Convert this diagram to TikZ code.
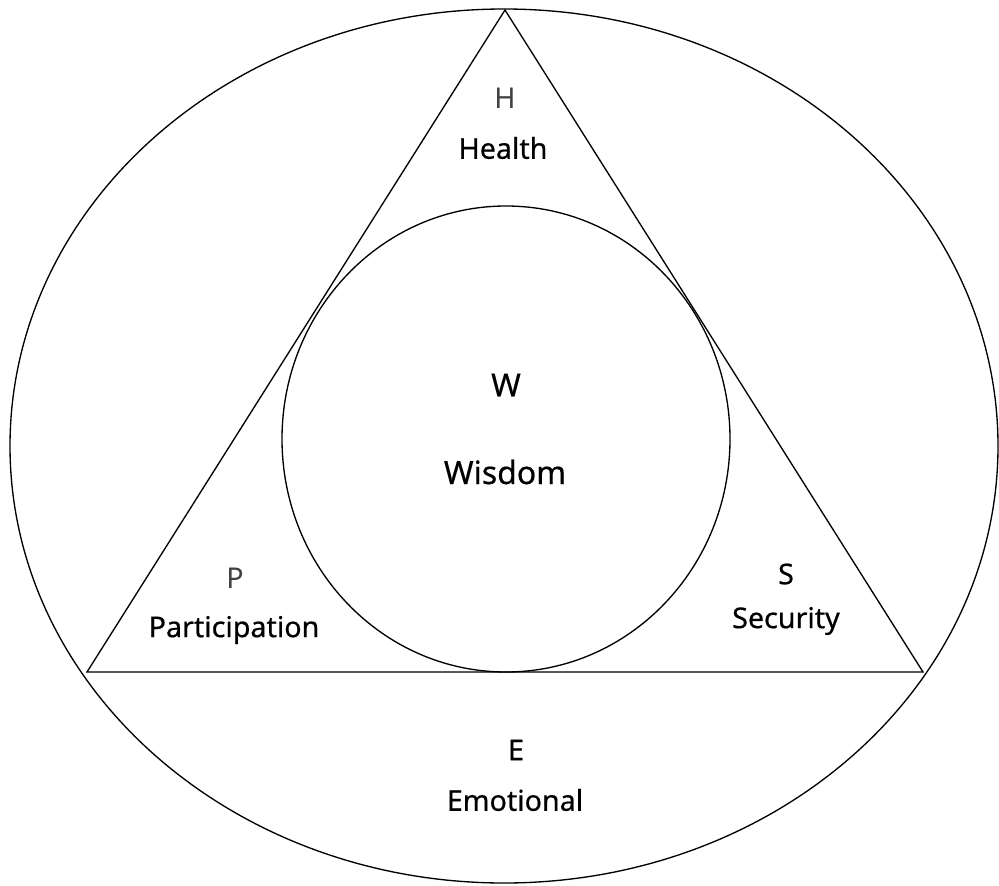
\documentclass[tikz,border=0pt]{standalone}
\usepackage{fontspec}
\setmainfont{Noto Sans}
\newfontfamily\labelfont[FakeBold=0.5]{Noto Sans}
\begin{document}
\begin{tikzpicture}[x=0.75pt,y=-0.75pt,
  shape line/.style={draw=black,line width=1pt},
  label/.style={font=\labelfont\fontsize{21.5}{24}\selectfont,text=black,inner sep=0pt,anchor=center},
  biglabel/.style={label,font=\labelfont\fontsize{24}{28}\selectfont},
  letterlight/.style={font=\fontsize{21.5}{24}\selectfont,text=black!75,inner sep=0pt,anchor=center}]
  \useasboundingbox (0,0) rectangle (999,885);
  % outer ellipse: Emotional
  \draw[shape line] (504,446) ellipse [x radius=494, y radius=437];
  % triangle H-P-S
  \coordinate (apex) at (505,10);
  \coordinate (bl) at (87,672);
  \coordinate (br) at (923,672);
  \draw[shape line,line join=miter] (apex) -- (bl) -- (br) -- cycle;
  % inner circle: Wisdom
  \draw[shape line] (506,439) ellipse [x radius=224, y radius=233];
  % labels
  \node[letterlight] (h) at (505,98) {H};
  \node[label] (health) at (503,148) {Health};
  \node[biglabel] (w) at (506,385) {W};
  \node[biglabel] (wisdom) at (505,472) {Wisdom};
  \node[letterlight] (p) at (235,578) {P};
  \node[label] (particip) at (234,630) {Participation};
  \node[label] (s) at (786,574) {S};
  \node[label] (security) at (786,621) {Security};
  \node[label] (e) at (516,750) {E};
  \node[label] (emotional) at (515,800) {Emotional};
\end{tikzpicture}
\end{document}
